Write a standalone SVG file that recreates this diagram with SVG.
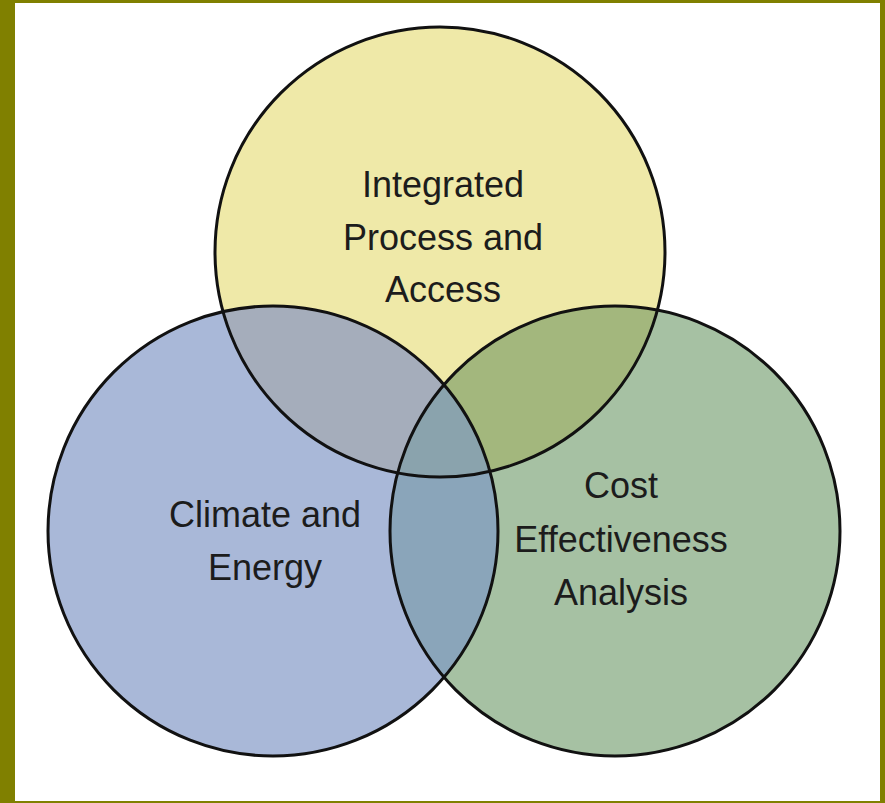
<svg xmlns="http://www.w3.org/2000/svg" width="885" height="803" viewBox="0 0 885 803">
  <style>
    .lbl { font-family: "Liberation Sans", Arial, sans-serif; font-size: 36px; fill: #1c1c1c; text-anchor: middle; }
    .ring { fill: none; stroke: #111; stroke-width: 3; }
  </style>
  <defs>
    <clipPath id="clipY"><circle cx="440" cy="252" r="225"/></clipPath>
    <clipPath id="clipB"><circle cx="273" cy="531" r="225"/></clipPath>
  </defs>
  <rect x="0" y="0" width="885" height="803" fill="#808000"/>
  <rect x="15" y="3" width="865" height="798" fill="#ffffff"/>

  <g id="fills">
    <circle cx="440" cy="252" r="225" fill="#efe9a8"/>
    <circle cx="273" cy="531" r="225" fill="#a9b8d8"/>
    <circle cx="615" cy="531" r="225" fill="#a6c1a3"/>
    <circle cx="273" cy="531" r="225" fill="#a5adbb" clip-path="url(#clipY)"/>
    <circle cx="615" cy="531" r="225" fill="#a3b77d" clip-path="url(#clipY)"/>
    <circle cx="615" cy="531" r="225" fill="#8aa5ba" clip-path="url(#clipB)"/>
    <g clip-path="url(#clipY)">
      <circle cx="615" cy="531" r="225" fill="#8aa3ad" clip-path="url(#clipB)"/>
    </g>
  </g>

  <g id="node-integrated">
    <circle class="ring" cx="440" cy="252" r="225"/>
    <text class="lbl" x="443" y="197">Integrated</text>
    <text class="lbl" x="443" y="250">Process and</text>
    <text class="lbl" x="443" y="302">Access</text>
  </g>
  <g id="node-climate">
    <circle class="ring" cx="273" cy="531" r="225"/>
    <text class="lbl" x="265" y="527">Climate and</text>
    <text class="lbl" x="265" y="580">Energy</text>
  </g>
  <g id="node-cost">
    <circle class="ring" cx="615" cy="531" r="225"/>
    <text class="lbl" x="621" y="498">Cost</text>
    <text class="lbl" x="621" y="552">Effectiveness</text>
    <text class="lbl" x="621" y="605">Analysis</text>
  </g>
  <g id="connectors"></g>
</svg>
